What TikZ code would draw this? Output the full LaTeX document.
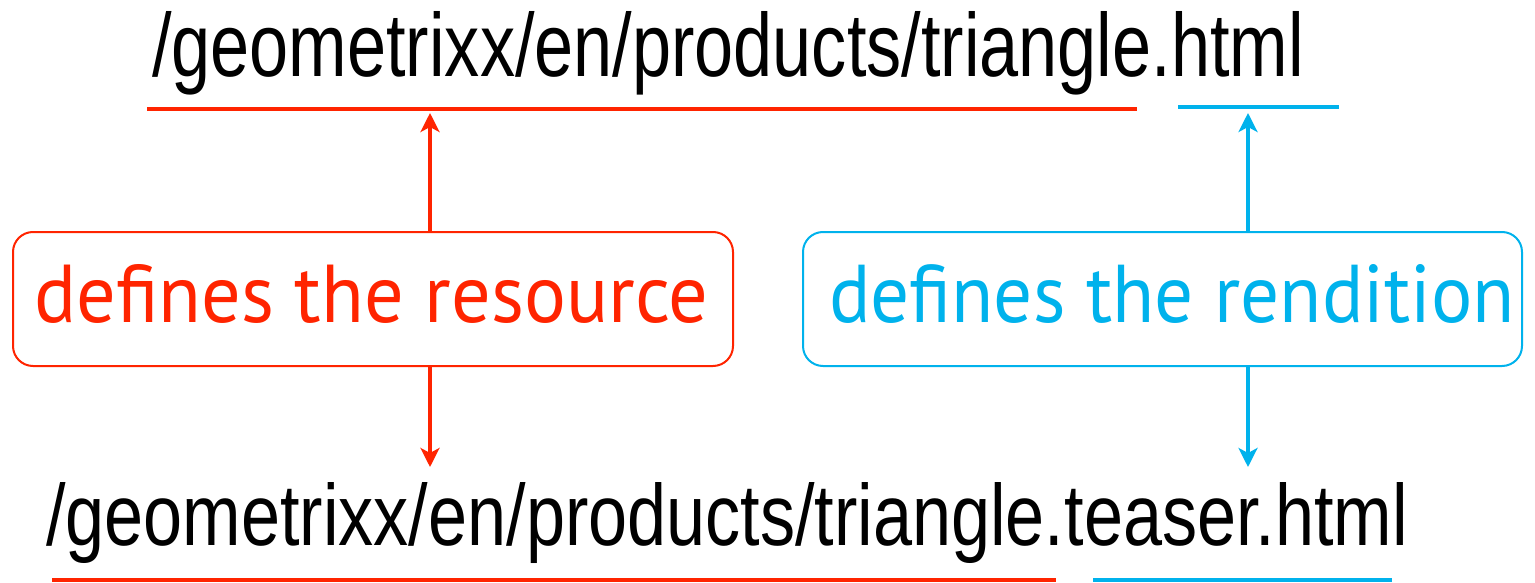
\documentclass[tikz,border=0pt]{standalone}
\usepackage{fontspec}
\usepackage{graphicx}
\usetikzlibrary{arrows.meta}
\newfontfamily\urlfont{Liberation Sans}
\newfontfamily\notefont{PT Sans}
\definecolor{resred}{RGB}{255,36,0}
\definecolor{rendblue}{RGB}{0,178,236}
\begin{document}
\begin{tikzpicture}[x=1pt,y=-1pt,
  url/.style={inner sep=0pt, anchor=base west, font=\urlfont},
  note/.style={inner sep=0pt, anchor=base west, font=\notefont},
  notebox/.style={draw, rounded corners=20pt, line width=2pt,
    minimum width=720pt, minimum height=134pt, inner sep=0pt},
  uline/.style={line width=3.5pt},
  pointer/.style={line width=3.5pt, -{Stealth[length=19pt,width=19pt,inset=5pt]}}
]
\useasboundingbox (0,0) rectangle (1535,583);

% the two paths
\node[url] (top) at (152,77)
  {\resizebox{1151pt}{65pt}{/geometrixx/en/products/triangle.html}};
\node[url] (bottom) at (46,545)
  {\resizebox{1361pt}{63pt}{/geometrixx/en/products/triangle.teaser.html}};

% explanation boxes
\node[notebox, draw=resred] (rbox) at (373,299) {};
\node[notebox, draw=rendblue, minimum width=719pt] (bbox) at (1162.5,299) {};
\node[note, text=resred] (rtext) at (34,322)
  {\resizebox{674pt}{58pt}{defines the resource}};
\node[note, text=rendblue] (btext) at (829,322)
  {\resizebox{685pt}{58pt}{defines the rendition}};

% underlines of the path parts
\coordinate (tr1) at (147,109);  \coordinate (tr2) at (1137,109);
\coordinate (tb1) at (1178,107); \coordinate (tb2) at (1339,107);
\coordinate (br1) at (52,580);   \coordinate (br2) at (1056,580);
\coordinate (bb1) at (1093,580); \coordinate (bb2) at (1392,580);
\draw[uline, resred] (tr1) -- (tr2);
\draw[uline, rendblue] (tb1) -- (tb2);
\draw[uline, resred, line width=4pt] (br1) -- (br2);
\draw[uline, rendblue, line width=4pt] (bb1) -- (bb2);

% arrows from the boxes to the underlined parts
\coordinate (rup) at (430,113);   \coordinate (rdown) at (430,467);
\coordinate (bup) at (1248,113);  \coordinate (bdown) at (1248,467);
\draw[pointer, resred] (rbox.north -| rup) -- (rup);
\draw[pointer, resred] (rbox.south -| rdown) -- (rdown);
\draw[pointer, rendblue] (bbox.north -| bup) -- (bup);
\draw[pointer, rendblue] (bbox.south -| bdown) -- (bdown);
\end{tikzpicture}
\end{document}
